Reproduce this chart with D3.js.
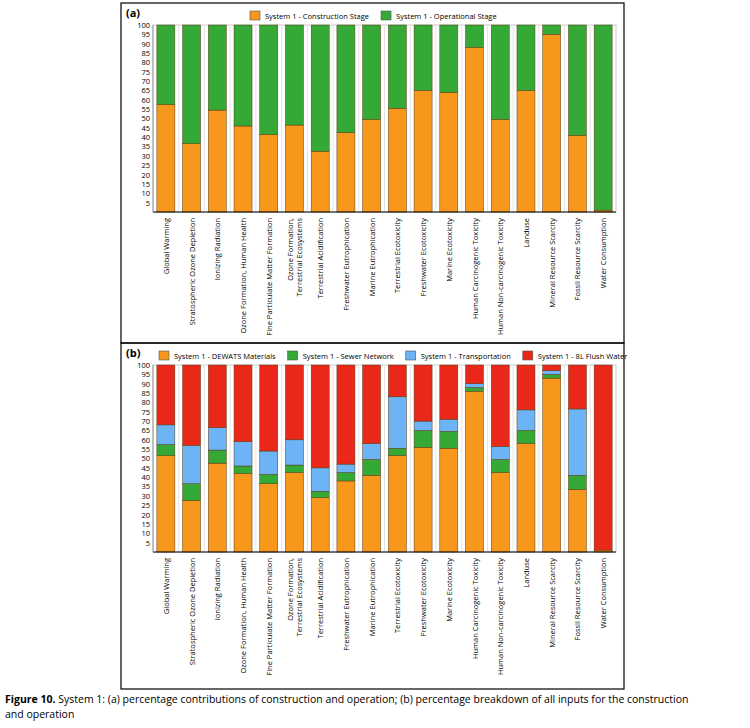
<!DOCTYPE html>
<html><head><meta charset="utf-8">
<script src="https://cdn.jsdelivr.net/npm/d3@7"></script>
<style>body{margin:0;background:#fff;font-family:"Open Sans",sans-serif}</style>
</head><body>
<script>
const categories = ["Global Warming","Stratospheric Ozone Depletion","Ionizing Radiation","Ozone Formation, Human Health","Fine Particulate Matter Formation","Ozone Formation,|Terrestrial Ecosystems","Terrestrial Acidification","Freshwater Eutrophication","Marine Eutrophication","Terrestrial Ecotoxicity","Freshwater Ecotoxicity","Marine Ecotoxicity","Human Carcinogenic Toxicity","Human Non-carcinogenic Toxicity","Landuse","Mineral Resource Scarcity","Fossil Resource Scarcity","Water Consumption"];
const construction = [57.5,36.5,54.5,46,41.5,46.5,32.5,42.5,49.5,55.5,65,64,88,49.5,65,95,41,1];
const operational = construction.map(v => 100 - v);
const dewats    = [51.5,27.5,47.5,42,36.5,42.5,29,38,41,51.5,56,55.5,86,42.5,58,93,33.5,1];
const sewer     = [6,9,7,4,5,4,3.5,4.5,8.5,4,9,9,2,7,7,2,7.5,0];
const transport = [10.5,20.5,12,13,12.5,13.5,12.5,4.5,8.5,27.5,5,6.5,2,7,11,2,35.5,0];
const flush     = [32,43,33.5,41,46,40,55,53,42,17,30,29,10,43.5,24,3,23.5,99];
const yTicks = [5,10,15,20,25,30,35,40,45,50,55,60,65,70,75,80,85,90,95,100];

const svg = d3.select("body").append("svg").attr("width",750).attr("height",728);

function panel(top, bottom, plotTop, plotBottom, tag, series) {
  svg.append("rect").attr("x",121).attr("y",top).attr("width",503).attr("height",bottom-top)
    .attr("fill","none").attr("stroke","#000").attr("stroke-width",1.2);
  svg.append("text").attr("x",126).attr("y",top+14).attr("font-size",11).attr("font-weight","bold").text(tag);
  const x = d3.scaleBand().domain(categories).range([153,616]).paddingInner(0.3).paddingOuter(0.15);
  const y = d3.scaleLinear().domain([0,100]).range([plotBottom,plotTop]);
  const g = svg.append("g");
  g.append("rect").attr("x",153).attr("y",plotTop).attr("width",463).attr("height",plotBottom-plotTop)
    .attr("fill","#fff").attr("stroke","#ccc");
  // light vertical gridlines between bars
  categories.forEach((c,i) => {
    if (i===0) return;
    const gx = x(c) - x.step()*x.paddingInner()/2;
    g.append("line").attr("x1",gx).attr("x2",gx).attr("y1",plotTop).attr("y2",plotBottom).attr("stroke","#e4e4e4");
  });
  const stack = d3.stack().keys(series.map(s=>s.name))(categories.map((c,i)=>{
    const o={}; series.forEach(s=>o[s.name]=s.values[i]); return o;}));
  stack.forEach((layer,k) => {
    g.selectAll(null).data(layer).join("rect")
      .attr("x",(d,i)=>x(categories[i])).attr("width",x.bandwidth())
      .attr("y",d=>y(d[1])).attr("height",d=>y(d[0])-y(d[1]))
      .attr("fill",series[k].color).attr("stroke","#5a3a10").attr("stroke-width",0.5);
  });
  const ax = g.append("g").attr("transform","translate(153,0)")
    .call(d3.axisLeft(y).tickValues(yTicks).tickSize(0).tickPadding(3));
  ax.select(".domain").remove();
  ax.selectAll("text").attr("font-size",7.5).attr("font-family","Open Sans");
  g.append("line").attr("x1",153).attr("x2",616).attr("y1",plotBottom).attr("y2",plotBottom).attr("stroke","#000");
  g.append("line").attr("x1",153).attr("x2",153).attr("y1",plotTop).attr("y2",plotBottom).attr("stroke","#999");
  categories.forEach(c => {
    const parts = c.split("|");
    const cx = x(c)+x.bandwidth()/2;
    parts.forEach((p,j) => {
      const off = (j - (parts.length-1)/2)*9;
      g.append("text").attr("transform",`translate(${cx+off+3},${plotBottom+6}) rotate(-90)`)
        .attr("text-anchor","end").attr("font-size",7.5).text(p);
    });
  });
  // legend
  const lg = svg.append("g");
  let lx = series.length===2 ? 250 : 159;
  series.forEach(s => {
    lg.append("rect").attr("x",lx).attr("y",top+8).attr("width",10).attr("height",9)
      .attr("fill",s.color).attr("stroke","#555").attr("stroke-width",0.6);
    const t = lg.append("text").attr("x",lx+15).attr("y",top+16).attr("font-size",7.5).text(s.label);
    lx += 15 + t.node().getComputedTextLength() + 12;
  });
}

panel(3, 343, 25, 212, "(a)", [
  {name:"c",label:"System 1 - Construction Stage",values:construction,color:"#F7981D"},
  {name:"o",label:"System 1 - Operational Stage",values:operational,color:"#35A936"}]);
panel(343, 689, 365, 552, "(b)", [
  {name:"d",label:"System 1 - DEWATS Materials",values:dewats,color:"#F7981D"},
  {name:"s",label:"System 1 - Sewer Network",values:sewer,color:"#35A936"},
  {name:"t",label:"System 1 - Transportation",values:transport,color:"#6CB4F5"},
  {name:"f",label:"System 1 - 8L Flush Water",values:flush,color:"#E9281A"}]);

const cap = svg.append("text").attr("x",5).attr("y",703).attr("font-size",10.5);
cap.append("tspan").attr("font-weight","bold").text("Figure 10.");
cap.append("tspan").text(" System 1: (a) percentage contributions of construction and operation; (b) percentage breakdown of all inputs for the construction");
svg.append("text").attr("x",5).attr("y",718).attr("font-size",10.5).text("and operation");
</script>
</body></html>
